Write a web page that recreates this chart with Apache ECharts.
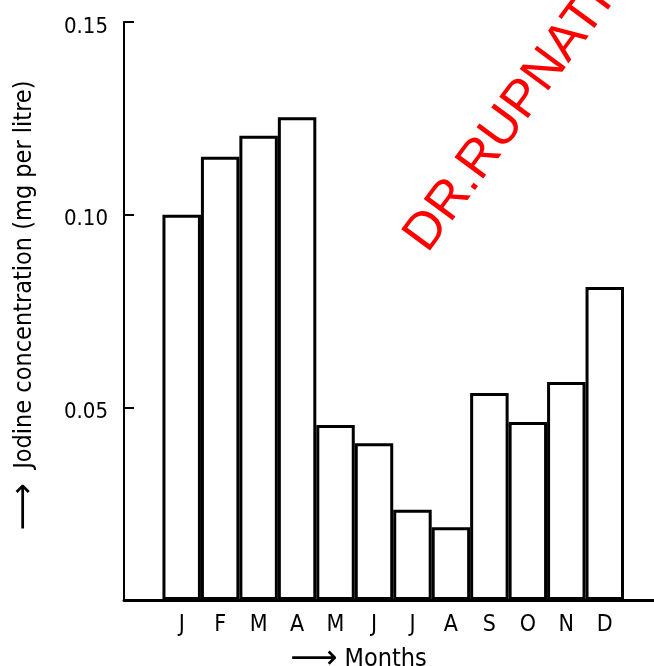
<!DOCTYPE html>
<html>
<head>
<meta charset="utf-8">
<script src="https://cdn.jsdelivr.net/npm/echarts@6/dist/echarts.min.js"></script>
<style>html,body{margin:0;padding:0;background:#fff}#c{width:654px;height:666px}</style>
</head>
<body>
<div id="c"></div>
<script>
const months = ['J','F','M','A','M','J','J','A','S','O','N','D'];
const iodine = [0.100, 0.115, 0.1205, 0.1253, 0.0454, 0.0407, 0.0234, 0.0189, 0.0537, 0.0462, 0.0566, 0.0812];
const yTicks = [0.05, 0.10, 0.15];
const yAxisTitle = 'Jodine concentration (mg per litre)';
const xAxisTitle = 'Months';
const arrow = '\u27F6';
const watermark = 'DR.RUPNATHJI( DR.RUPAK NATH )';

const cats = [''].concat(months);
const vals = ['-'].concat(iodine);
const font = '"DejaVu Sans Condensed", "DejaVu Sans", sans-serif';

const chart = echarts.init(document.getElementById('c'));
chart.setOption({
  animation: false,
  backgroundColor: '#fff',
  grid: [
    { left: 124, top: 22, width: 500, bottom: 66, outerBoundsMode: 'none', containLabel: false },
    { left: 124, top: 22, right: 0, bottom: 66, outerBoundsMode: 'none', containLabel: false }
  ],
  xAxis: [{
    type: 'category',
    gridIndex: 0,
    data: cats,
    axisLine: { show: false },
    axisTick: { show: false },
    axisLabel: { color: '#000', fontFamily: font, fontSize: 23, margin: 14, interval: 0 },
    name: '{a|' + arrow + '} {b|' + xAxisTitle + '}',
    nameLocation: 'middle',
    nameGap: 43,
    nameTextStyle: {
      color: '#000', fontFamily: font, fontSize: 25, padding: [0, 31, 0, 0],
      rich: {
        a: { fontFamily: '"DejaVu Sans", sans-serif', fontSize: 33, color: '#000' },
        b: { fontFamily: font, fontSize: 25, color: '#000' }
      }
    }
  }, {
    type: 'value',
    gridIndex: 1,
    min: 0, max: 1,
    axisLine: { show: true, onZero: false, lineStyle: { color: '#000', width: 3 } },
    axisTick: { show: false },
    axisLabel: { show: false },
    splitLine: { show: false }
  }],
  yAxis: [{
    type: 'value',
    gridIndex: 0,
    min: 0, max: 0.15, interval: 0.05,
    splitLine: { show: false },
    axisLine: { show: true, lineStyle: { color: '#000', width: 2 } },
    axisTick: { show: true, inside: true, length: 10, lineStyle: { color: '#000', width: 2 } },
    axisLabel: {
      color: '#000', fontFamily: font, fontSize: 22, margin: 16,
      verticalAlign: 'top', lineHeight: 10,
      formatter: v => (yTicks.some(t => Math.abs(t - v) < 1e-9) ? v.toFixed(2) : '')
    },
    name: '{a|' + arrow + '}  {b|' + yAxisTitle + '}',
    nameLocation: 'middle',
    nameRotate: 90,
    nameGap: 83,
    nameTextStyle: {
      color: '#000', fontFamily: font, fontSize: 25, padding: [0, 0, 0, 11],
      rich: {
        a: { fontFamily: '"DejaVu Sans", sans-serif', fontSize: 33, color: '#000' },
        b: { fontFamily: font, fontSize: 25, color: '#000' }
      }
    }
  }, {
    type: 'value',
    gridIndex: 1,
    min: 0, max: 1,
    show: false
  }],
  series: [{
    type: 'bar',
    xAxisIndex: 0,
    yAxisIndex: 0,
    data: vals,
    barCategoryGap: 0,
    itemStyle: { color: '#fff', borderColor: '#000', borderWidth: 3 }
  }],
  graphic: [{
    type: 'text',
    x: 437, y: 261,
    rotation: 0.935,
    silent: true,
    style: {
      text: watermark,
      fill: '#ff0000',
      font: '52px "Liberation Sans", Arial, sans-serif',
      textAlign: 'left',
      textVerticalAlign: 'bottom'
    },
    z: 100
  }]
});
</script>
</body>
</html>
